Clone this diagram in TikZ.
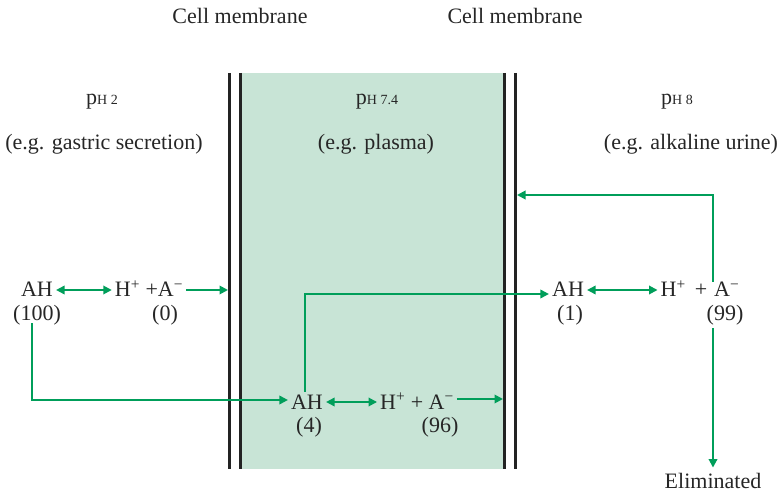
\documentclass[tikz,border=0pt]{standalone}
\usepackage{fontspec}
\setmainfont{Liberation Serif}
\usetikzlibrary{arrows.meta}
\definecolor{arrgreen}{RGB}{0,158,90}
\definecolor{plasmafill}{RGB}{200,228,214}
\definecolor{memb}{RGB}{35,35,35}
\begin{document}
\begin{tikzpicture}[x=1pt,y=-1pt,
  lbl/.style={font=\fontsize{22}{26}\selectfont, inner sep=0pt, anchor=base, text=black!85},
  phlbl/.style={font=\fontsize{22}{26}\selectfont, inner sep=0pt, anchor=base, text=black!85},
  chem/.style={font=\fontsize{22}{26}\selectfont, inner xsep=3pt, inner ysep=0pt, text height=14pt, text depth=0pt, text=black!85},
  arr/.style={draw=arrgreen, line width=1.9pt, -{Triangle[length=8.5pt,width=8.5pt]}},
  darr/.style={draw=arrgreen, line width=1.9pt, {Triangle[length=8.5pt,width=8.5pt]}-{Triangle[length=8.5pt,width=8.5pt]}},
  membthick/.style={draw=memb, line width=3pt},
  membthin/.style={draw=memb, line width=2.2pt}]
\useasboundingbox (0,0) rectangle (777,497);
% compartment and membranes
\fill[plasmafill] (241,73) rectangle (504,469);
\draw[membthick] (229.5,73) -- (229.5,469);
\draw[membthin] (240.5,73) -- (240.5,469);
\draw[membthin] (504.5,73) -- (504.5,469);
\draw[membthin] (515.5,73) -- (515.5,469);
\coordinate (mL) at (228,0);
\coordinate (mR1) at (503,0);
\coordinate (mR2) at (517,0);
% headings
\node[lbl] (cm1) at (240,24) {Cell membrane};
\node[lbl] (cm2) at (515,24) {Cell membrane};
\node[phlbl] (ph1) at (102,105) {p{\fontsize{14}{16}\selectfont H 2}};
\node[phlbl] (ph2) at (377,105) {p{\fontsize{14}{16}\selectfont H 7.4}};
\node[phlbl] (ph3) at (677,105) {p{\fontsize{14}{16}\selectfont H 8}};
\node[lbl] (eg1) at (104,150) {(e.g. gastric secretion)};
\node[lbl] (eg2) at (376,150) {(e.g. plasma)};
\node[lbl] (eg3) at (691,150) {(e.g. alkaline urine)};
% row 1 (pH 2)
\node[chem] (ah1) at (37,290) {AH};
\node[chem] (n1) at (37,313) {(100)};
\node[chem] (hp1) at (149,290) {H\textsuperscript{+} +A\textsuperscript{−}};
\node[chem] (n2) at (165,313) {(0)};
% row 2 (plasma)
\node[chem] (ah2) at (307,402) {AH};
\node[chem] (n3) at (309,425) {(4)};
\node[chem] (hp2) at (417,402) {H\textsuperscript{+} + A\textsuperscript{−}};
\node[chem] (n4) at (440,425) {(96)};
% row 3 (pH 8)
\node[chem] (ah3) at (568,290) {AH};
\node[chem] (n5) at (570,313) {(1)};
\node[chem] (hp3) at (700,290) {H\textsuperscript{+}\hspace{9pt}+\hspace{7pt}A\textsuperscript{−}};
\node[chem] (n6) at (725,313) {(99)};
\node[lbl] (elim) at (713,488) {Eliminated};
\coordinate (t1) at (713,282);
\coordinate (t2) at (713,195);
\coordinate (b1) at (713,328);
% connectors
\draw[darr] (ah1) -- (hp1);
\draw[arr] (hp1.east) -- (hp1.east -| mL);
\draw[arr] ([xshift=-5pt,yshift=-3pt]n1.south) |- ([yshift=2pt]ah2.west);
\draw[darr] (ah2) -- (hp2);
\draw[arr] ([yshift=3pt]hp2.east) -- ([yshift=3pt]hp2.east -| mR1);
\draw[arr] ([xshift=-2pt,yshift=3pt]ah2.north) |- ([yshift=-4pt]ah3.west);
\draw[darr] (ah3) -- (hp3);
\draw[arr] (t1) -- (t2) -- (t2 -| mR2);
\draw[arr, shorten >=5pt] (b1) -- (elim.north);
\end{tikzpicture}
\end{document}
